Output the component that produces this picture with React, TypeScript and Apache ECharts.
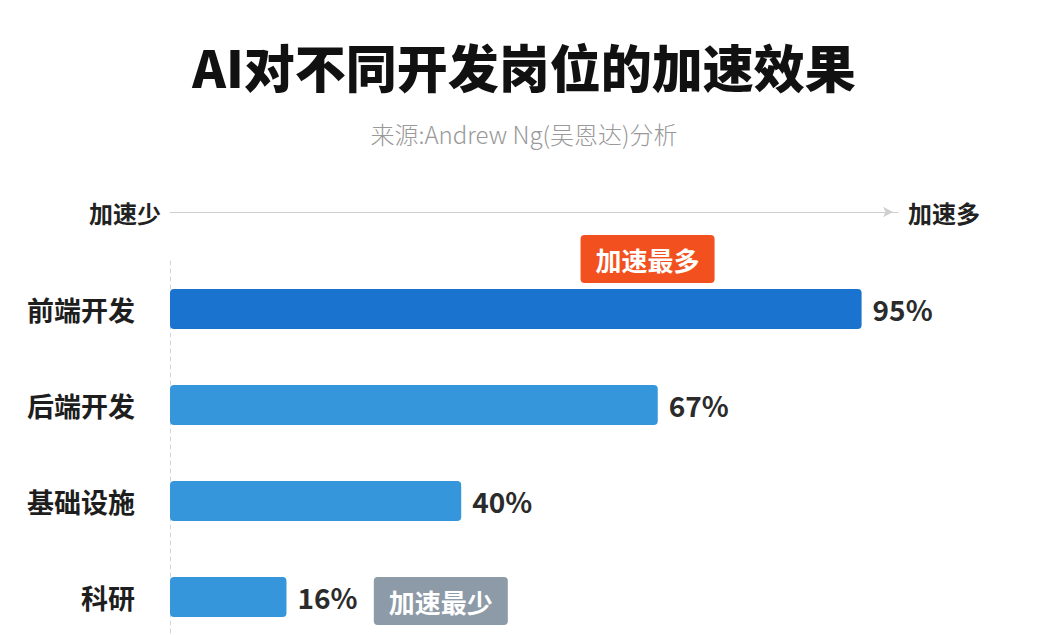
import { useEffect, useRef } from 'react';
import * as echarts from 'echarts';

const roles = ['前端开发', '后端开发', '基础设施', '科研'];
const speedup = [95, 67, 40, 16];
const barColors = ['#1a73cf', '#3596dc', '#3596dc', '#3596dc'];

const titleText = 'AI对不同开发岗位的加速效果';
const subtitleText = '来源:Andrew Ng(吴恩达)分析';
const axisLow = '加速少';
const axisHigh = '加速多';

// badges: [text, x value, category, colour, offset]
const badges: [string, number, string, string, number[]][] = [
  ['加速最多', 65.6, '前端开发', '#f2511f', [0, -50]],
  ['加速最少', 37.2, '科研', '#8d9aa7', [0, 4]],
];

const FONT = '"Noto Sans CJK SC", "Noto Sans", sans-serif';

const App = () => {
  const chartRef = useRef<HTMLDivElement>(null);

  useEffect(() => {
    if (!chartRef.current) return;
    const chart = echarts.init(chartRef.current, null, { renderer: 'svg' });

    const options: echarts.EChartsOption = {
      animation: false,
      backgroundColor: '#ffffff',
      textStyle: { fontFamily: FONT },
      title: [
        {
          text: titleText,
          left: 'center',
          top: 35,
          textStyle: { fontSize: 51, fontWeight: 900, color: '#111111', fontFamily: FONT },
        },
        {
          text: subtitleText,
          left: 'center',
          top: 116,
          textStyle: { fontSize: 24, fontWeight: 300, color: '#999999', fontFamily: FONT },
        },
      ],
      grid: { left: 170, right: 150, top: 261, height: 384, outerBoundsMode: 'none' } as any,
      xAxis: [
        {
          type: 'value',
          min: 0,
          max: 100,
          position: 'top',
          offset: 49,
          splitLine: { show: false },
          axisTick: { show: false },
          axisLabel: { show: false },
          axisLine: {
            show: true,
            symbol: ['none', 'arrow'],
            symbolSize: [8, 10],
            symbolOffset: [0, -5],
            lineStyle: { color: '#cfcfcf', width: 1 },
          },
          name: axisHigh,
          nameLocation: 'end',
          nameGap: 10,
          nameTextStyle: { fontSize: 24, fontWeight: 'bold', color: '#222222', fontFamily: FONT },
        },
        {
          type: 'value',
          min: 0,
          max: 100,
          position: 'top',
          offset: 49,
          splitLine: { show: false },
          axisTick: { show: false },
          axisLabel: { show: false },
          axisLine: { show: false },
          name: axisLow,
          nameLocation: 'start',
          nameGap: 9,
          nameTextStyle: { fontSize: 24, fontWeight: 'bold', color: '#222222', fontFamily: FONT },
        },
      ],
      yAxis: {
        type: 'category',
        data: roles,
        inverse: true,
        axisTick: { show: false },
        axisLine: { show: true, lineStyle: { color: '#d5d5d5', type: [4, 4], width: 1 } },
        axisLabel: {
          margin: 35,
          fontSize: 27,
          fontWeight: 'bold',
          color: '#1e1e1e',
          fontFamily: FONT,
        },
      },
      series: [
        {
          type: 'bar',
          barWidth: 40,
          data: speedup.map((v, i) => ({
            value: v,
            itemStyle: { color: barColors[i], borderRadius: 4 },
          })),
          label: {
            show: true,
            position: 'right',
            distance: 11,
            formatter: '{c}%',
            fontSize: 28,
            fontWeight: 'bold',
            color: '#2b2b2b',
            fontFamily: FONT,
          },
          markPoint: {
            symbol: 'rect',
            symbolSize: 0,
            data: badges.map(([text, x, cat, color, offset]) => ({
              coord: [x, cat],
              label: {
                show: true,
                position: 'inside',
                formatter: text,
                offset,
                backgroundColor: color,
                borderRadius: 4,
                padding: [11, 15, 11, 15],
                color: '#ffffff',
                fontSize: 26,
                fontWeight: 'bold',
                fontFamily: FONT,
              },
            })),
          },
        },
      ],
    };

    chart.setOption(options);
    return () => {
      chart.dispose();
    };
  }, []);

  return (
    <div
      ref={chartRef}
      style={{ position: 'fixed', left: 0, top: 0, width: 1048, height: 635 }}
    />
  );
};

export default App;
